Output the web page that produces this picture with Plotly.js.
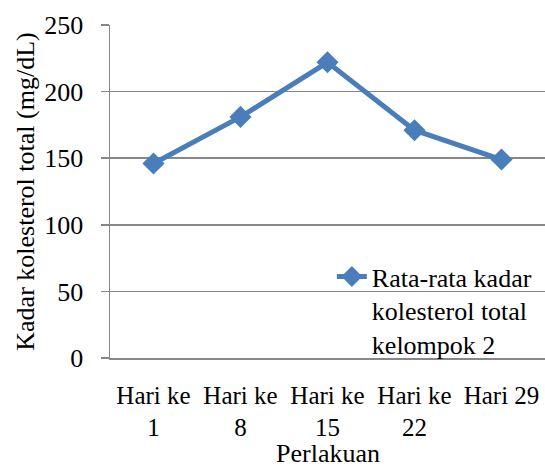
<!DOCTYPE html>
<html>
<head>
<meta charset="utf-8">
<script src="https://cdn.plot.ly/plotly-3.0.1.min.js"></script>
<style>html,body{margin:0;padding:0;background:#fff;}#chart{width:545px;height:466px;}</style>
</head>
<body>
<div id="chart"></div>
<script>
var categories = ["Hari ke<br>1", "Hari ke<br>8", "Hari ke<br>15", "Hari ke<br>22", "Hari 29"];
var values = [146, 181, 222, 171, 149];
var seriesName = "Rata-rata kadar<br>kolesterol total<br>kelompok 2";
var yTicks = [0, 50, 100, 150, 200, 250];
var xTitle = "Perlakuan";
var yTitle = "Kadar kolesterol total (mg/dL)";

var font = "'Liberation Serif', 'Times New Roman', serif";
var trace = {
  x: categories,
  y: values,
  type: "scatter",
  mode: "lines+markers",
  name: seriesName,
  line: {color: "#4A7EBB", width: 5},
  marker: {symbol: "diamond", size: 17, color: "#4A7EBB", line: {color: "#4A7EBB", width: 0}}
};
var layout = {
  width: 545, height: 466,
  margin: {l: 110, r: 0, t: 25, b: 108, autoexpand: false},
  paper_bgcolor: "#fff", plot_bgcolor: "#fff",
  font: {family: font, size: 26, color: "#000"},
  showlegend: true,
  legend: {x: 0.51, y: 0.315, xanchor: "left", yanchor: "top", bgcolor: "rgba(0,0,0,0)", valign: "top", font: {family: font, size: 26, color: "#000"}, tracegroupgap: 0},
  xaxis: {
    type: "category", range: [-0.5, categories.length - 0.5],
    showgrid: false, zeroline: false,
    showline: true, linecolor: "#878787", linewidth: 1.5,
    ticks: "", ticklabelstandoff: 14,
    tickfont: {family: font, size: 25, color: "#000"},
    automargin: false, fixedrange: true
  },
  yaxis: {
    range: [0, 250], tickvals: yTicks, ticktext: yTicks.map(String),
    showgrid: true, gridcolor: "#878787", gridwidth: 1.5,
    zeroline: false,
    showline: true, linecolor: "#878787", linewidth: 1.5,
    ticks: "outside", ticklen: 8, tickcolor: "#878787", tickwidth: 1.5,
    ticklabelstandoff: 12,
    tickfont: {family: font, size: 26, color: "#000"},
    title: {text: yTitle, font: {family: font, size: 26, color: "#000"}, standoff: 2},
    automargin: false, fixedrange: true
  },
  annotations: [{
    text: xTitle, xref: "paper", yref: "paper", x: 0.5, y: 0,
    xanchor: "center", yanchor: "middle", yshift: -95, showarrow: false,
    font: {family: font, size: 26, color: "#000"}
  }]
};
Plotly.newPlot("chart", [trace], layout, {displayModeBar: false, staticPlot: true});
</script>
</body>
</html>
